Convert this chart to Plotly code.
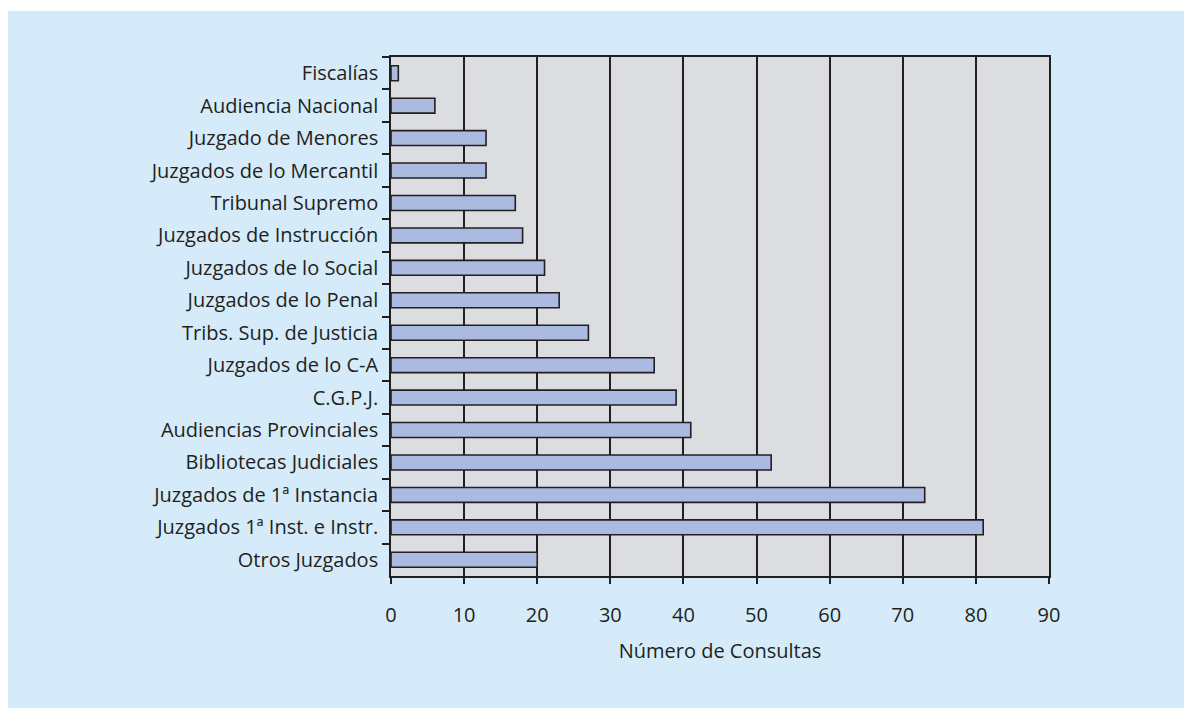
import plotly.graph_objects as go

categories = [
    "Fiscalías", "Audiencia Nacional", "Juzgado de Menores", "Juzgados de lo Mercantil",
    "Tribunal Supremo", "Juzgados de Instrucción", "Juzgados de lo Social",
    "Juzgados de lo Penal", "Tribs. Sup. de Justicia", "Juzgados de lo C-A", "C.G.P.J.",
    "Audiencias Provinciales", "Bibliotecas Judiciales", "Juzgados de 1ª Instancia",
    "Juzgados 1ª Inst. e Instr.", "Otros Juzgados",
]
values = [1, 6, 13, 13, 17, 18, 21, 23, 27, 36, 39, 41, 52, 73, 81, 20]
x_ticks = [0, 10, 20, 30, 40, 50, 60, 70, 80, 90]
x_title = "Número de Consultas"

ink = "#231f20"
font_family = "'Open Sans', Lato, sans-serif"

fig = go.Figure(go.Bar(
    y=categories, x=values, orientation="h",
    marker=dict(color="#abbae0", line=dict(color=ink, width=1.6)),
))

# page has an 8px body margin; figure coordinates are offset by it
fig.update_layout(
    width=1192, height=708,
    margin=dict(l=383, r=151, t=49, b=140),
    paper_bgcolor="#d5ebf9",
    plot_bgcolor="#dcdde0",
    bargap=0.54,
    showlegend=False,
    font=dict(family=font_family, size=20, color=ink),
    shapes=[
        dict(type="rect", xref="paper", yref="paper", x0=-0.7, x1=1.3,
             y0=(568 - 3) / 519, y1=1.2, fillcolor="white", line_width=0, layer="above"),
    ],
)

fig.update_xaxes(
    range=[0, 90], tickvals=x_ticks, ticktext=[str(v) for v in x_ticks],
    showgrid=True, gridcolor=ink, gridwidth=1.6,
    showline=True, linecolor=ink, linewidth=1.6, mirror=True,
    ticks="outside", ticklen=6, tickwidth=1.6, tickcolor=ink,
    ticklabelstandoff=14, zeroline=False,
    title=dict(text=x_title, standoff=17, font=dict(size=20)),
)
fig.update_yaxes(
    autorange="reversed", type="category",
    showgrid=False,
    showline=True, linecolor=ink, linewidth=1.6, mirror=True,
    ticks="outside", ticklen=7, tickwidth=1.6, tickcolor=ink, tickson="boundaries",
    ticklabelstandoff=7,
)

fig.write_html("out.html")
